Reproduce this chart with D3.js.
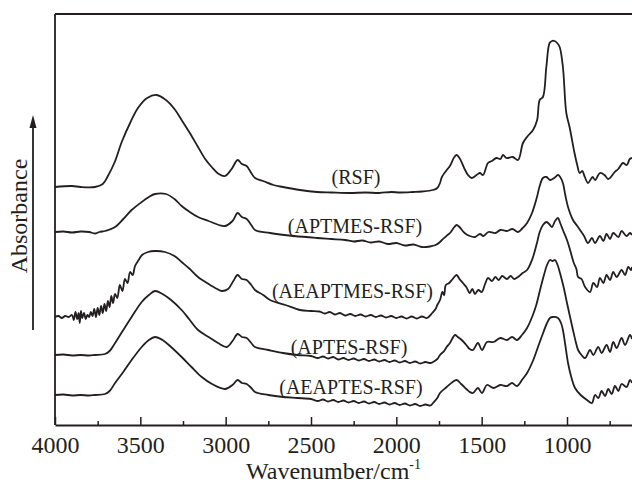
<!DOCTYPE html>
<html>
<head>
<meta charset="utf-8">
<script src="https://cdn.jsdelivr.net/npm/d3@7"></script>
<style>
    body { margin: 0; background: #fff; }
    svg text { font-family: "Liberation Serif", "Times New Roman", serif; fill: #231f20; }
</style>
</head>
<body>
<div id="chart"></div>
<script>
// stacked FTIR spectra, [wavenumber cm-1, absorbance (a.u., offset included)]
var rsf = [[4000,23.8],[3900,23.9],[3850,23.8],[3766,23.8],[3720,24.1],[3690,24.9],[3650,26.3],[3609,28.3],[3560,30.2],[3514,31.7],[3460,32.7],[3404,33.0],[3350,32.5],[3300,31.6],[3258,30.5],[3210,29.2],[3162,27.8],[3120,26.6],[3082,25.8],[3040,25.1],[3004,24.9],[2965,25.6],[2930,26.5],[2905,26.1],[2877,25.9],[2850,25.2],[2828,24.7],[2781,24.4],[2720,24.0],[2664,23.8],[2565,23.5],[2465,23.3],[2380,23.25],[2272,23.2],[2180,23.25],[2100,23.2],[2030,23.3],[1979,23.25],[1900,23.3],[1850,23.35],[1785,23.5],[1760,23.7],[1744,24.2],[1733,24.8],[1700,25.6],[1686,25.9],[1660,26.8],[1647,27.0],[1630,26.7],[1600,25.6],[1580,25.0],[1559,24.7],[1530,25.0],[1510,25.2],[1492,25.0],[1463,26.2],[1440,26.4],[1414,26.7],[1390,26.6],[1375,27.0],[1355,26.7],[1318,26.8],[1287,26.5],[1258,28.2],[1230,28.9],[1199,29.5],[1175,30.5],[1160,32.5],[1141,32.8],[1121,35.8],[1102,38.2],[1088,38.4],[1073,38.4],[1058,38.2],[1043,37.8],[1024,35.8],[1004,31.2],[985,29.8],[956,27.2],[940,26.0],[926,25.2],[910,25.4],[900,25.0],[877,24.2],[860,24.6],[850,24.8],[835,24.5],[807,25.2],[780,25.0],[760,24.6],[748,24.7],[720,25.3],[700,25.6],[672,26.2],[650,26.0],[632,26.6],[619,26.7]];

var aptmes = [[4000,19.3],[3950,19.35],[3900,19.25],[3850,19.35],[3800,19.3],[3766,19.15],[3740,19.3],[3707,19.4],[3680,19.55],[3648,19.8],[3600,20.6],[3551,21.5],[3492,22.3],[3450,22.8],[3414,23.1],[3350,23.1],[3300,22.6],[3258,21.9],[3210,21.3],[3162,20.8],[3100,20.4],[3040,20.0],[3004,19.9],[2960,20.4],[2930,21.2],[2905,20.8],[2877,20.6],[2850,20.0],[2828,19.5],[2740,19.2],[2600,18.9],[2465,18.7],[2380,18.6],[2300,18.5],[2250,18.35],[2200,18.45],[2150,18.25],[2100,18.35],[2050,18.1],[2000,18.2],[1950,17.95],[1900,18.05],[1850,17.8],[1803,17.85],[1770,18.0],[1744,18.3],[1733,18.5],[1700,19.0],[1686,19.2],[1660,19.8],[1647,20.0],[1630,19.8],[1600,19.2],[1570,18.9],[1539,18.8],[1510,19.1],[1490,18.9],[1460,19.3],[1420,19.2],[1390,19.5],[1352,19.4],[1320,19.6],[1287,19.3],[1260,19.7],[1234,20.2],[1205,21.2],[1176,22.8],[1160,23.9],[1141,24.7],[1120,24.8],[1100,24.5],[1075,24.7],[1053,25.0],[1040,24.8],[1024,24.2],[1010,23.0],[994,21.8],[965,20.5],[940,19.9],[924,19.5],[900,18.9],[877,18.2],[854,18.7],[836,18.2],[807,18.9],[787,18.4],[768,19.1],[748,18.6],[729,19.2],[699,18.8],[680,19.4],[651,18.9],[631,19.2],[619,19.0]];

var aeaptmes = [[4000,10.8],[3980,10.9],[3960,10.7],[3940,10.9],[3920,10.8],[3900,11.0],[3890,10.5],[3880,11.3],[3870,10.6],[3862,11.2],[3855,10.2],[3848,11.4],[3840,10.7],[3830,11.2],[3820,10.6],[3810,11.0],[3800,10.8],[3790,11.3],[3780,10.9],[3770,11.6],[3760,10.8],[3750,11.7],[3740,11.0],[3730,11.9],[3720,11.2],[3710,12.1],[3700,11.4],[3690,12.4],[3680,11.8],[3670,12.9],[3660,12.2],[3648,13.1],[3635,12.7],[3620,14.0],[3605,13.4],[3590,14.6],[3575,14.2],[3560,15.3],[3545,15.0],[3531,15.9],[3510,16.5],[3490,17.0],[3455,17.3],[3414,17.4],[3356,17.3],[3300,16.9],[3258,16.3],[3210,15.6],[3162,14.8],[3100,14.1],[3050,13.6],[3023,13.4],[2986,13.6],[2955,14.4],[2930,15.0],[2905,14.6],[2877,14.5],[2850,14.0],[2828,13.5],[2780,13.0],[2740,12.5],[2650,12.0],[2565,11.5],[2500,11.4],[2450,11.35],[2420,11.15],[2390,11.3],[2360,11.05],[2330,11.2],[2300,10.95],[2270,11.1],[2240,10.9],[2210,11.05],[2180,10.85],[2150,11.0],[2120,10.8],[2090,10.95],[2060,10.75],[2030,10.9],[2000,10.7],[1970,10.85],[1940,10.65],[1910,10.85],[1880,10.65],[1850,10.85],[1820,10.7],[1790,11.2],[1770,11.6],[1760,12.0],[1744,12.5],[1730,13.3],[1720,13.0],[1710,14.0],[1690,14.2],[1670,14.6],[1647,15.0],[1630,14.6],[1610,14.2],[1590,13.8],[1570,13.2],[1555,13.6],[1539,13.1],[1520,13.5],[1500,13.3],[1480,14.1],[1463,14.7],[1440,14.4],[1420,14.8],[1400,14.5],[1380,14.9],[1352,14.6],[1330,14.9],[1310,14.6],[1287,14.8],[1260,15.2],[1234,15.5],[1205,16.5],[1176,18.2],[1160,19.3],[1141,20.0],[1120,20.3],[1100,20.0],[1088,19.8],[1070,20.4],[1053,20.7],[1040,20.2],[1024,19.5],[1000,18.5],[982,17.5],[960,16.2],[945,15.6],[935,14.8],[915,14.6],[894,13.8],[865,13.3],[846,14.2],[824,13.8],[807,14.7],[787,14.2],[768,15.0],[748,14.5],[729,15.3],[709,14.8],[680,15.5],[660,15.0],[641,15.8],[625,15.5],[619,15.8]];

var aptes = [[4000,7.0],[3950,7.05],[3900,6.95],[3850,7.0],[3800,6.95],[3766,7.0],[3707,7.1],[3680,7.4],[3648,8.2],[3600,9.5],[3551,10.8],[3492,12.3],[3450,13.0],[3414,13.4],[3370,13.1],[3320,12.5],[3258,11.5],[3210,10.5],[3162,9.5],[3100,8.8],[3045,8.2],[2994,7.8],[2960,8.4],[2930,9.1],[2905,8.8],[2877,8.7],[2850,8.2],[2828,7.8],[2750,7.5],[2664,7.2],[2580,7.0],[2500,6.9],[2460,6.7],[2430,6.85],[2400,6.65],[2370,6.8],[2340,6.55],[2310,6.7],[2280,6.5],[2250,6.65],[2220,6.45],[2190,6.6],[2160,6.4],[2130,6.55],[2100,6.35],[2070,6.5],[2040,6.3],[2010,6.45],[1980,6.25],[1950,6.4],[1920,6.2],[1890,6.35],[1860,6.15],[1830,6.3],[1800,6.2],[1785,6.3],[1760,6.6],[1744,7.0],[1720,7.4],[1705,7.8],[1686,8.2],[1656,9.0],[1640,8.8],[1617,8.5],[1590,8.0],[1570,7.6],[1551,7.5],[1522,8.2],[1498,7.5],[1469,8.3],[1430,8.3],[1391,8.7],[1352,8.5],[1322,8.8],[1293,8.5],[1264,9.0],[1234,9.7],[1200,11.0],[1180,12.0],[1158,13.5],[1135,15.0],[1117,16.0],[1100,16.5],[1085,16.4],[1070,16.5],[1055,16.0],[1041,15.2],[1020,13.8],[1000,12.2],[982,10.8],[965,9.5],[950,8.4],[935,7.5],[915,7.0],[894,6.7],[865,7.5],[846,7.0],[817,7.8],[797,7.2],[768,8.0],[748,7.3],[729,8.3],[709,7.7],[680,8.7],[660,8.0],[631,9.0],[619,8.6]];

var aeaptes = [[4000,3.0],[3950,3.05],[3900,2.95],[3850,3.0],[3800,2.95],[3766,3.0],[3707,3.1],[3680,3.4],[3648,4.2],[3600,5.3],[3551,6.5],[3492,7.8],[3450,8.5],[3414,8.8],[3370,8.5],[3320,7.8],[3258,6.8],[3200,5.8],[3140,4.8],[3080,4.1],[3004,3.6],[2960,4.0],[2930,4.5],[2905,4.2],[2877,4.1],[2850,3.7],[2828,3.3],[2750,3.0],[2664,2.8],[2580,2.7],[2500,2.6],[2460,2.4],[2430,2.55],[2400,2.35],[2370,2.5],[2340,2.3],[2310,2.45],[2280,2.25],[2250,2.4],[2220,2.2],[2190,2.35],[2160,2.15],[2130,2.3],[2100,2.1],[2070,2.25],[2040,2.05],[2010,2.2],[1980,2.0],[1950,2.15],[1920,1.95],[1890,2.1],[1860,1.9],[1830,2.05],[1800,1.95],[1785,2.2],[1760,2.7],[1744,3.2],[1705,3.8],[1670,4.3],[1647,4.5],[1620,4.1],[1590,3.6],[1570,3.3],[1551,3.2],[1522,3.7],[1498,3.2],[1469,4.0],[1430,3.7],[1391,4.0],[1352,3.9],[1322,4.2],[1293,3.9],[1260,4.6],[1234,5.2],[1200,6.4],[1170,7.8],[1140,9.2],[1117,10.2],[1100,10.7],[1082,10.8],[1053,10.7],[1035,10.2],[1024,9.5],[1010,8.0],[994,6.2],[975,4.8],[953,3.7],[920,3.0],[883,2.5],[854,2.2],[836,3.0],[816,2.7],[797,3.4],[777,2.9],[758,3.6],[738,3.1],[719,3.9],[699,3.4],[680,4.1],[651,3.8],[631,4.5],[619,4.2]];

var seriesNames = ["(RSF)", "(APTMES-RSF)", "(AEAPTMES-RSF)", "(APTES-RSF)", "(AEAPTES-RSF)"];
// label anchor: [wavenumber, absorbance] of the text baseline centre
var labelPos = [[2236, 24.1], [2242, 19.2], [2257, 12.7], [2277, 7.1], [2266, 3.1]];
var majorTicks = [4000, 3500, 3000, 2500, 2000, 1500, 1000];
var minorTicks = [3750, 3250, 2750, 2250, 1750, 1250, 750];

var width = 632;
var height = 487;
var ink = "#231f20";
var serif = "'Liberation Serif', 'Times New Roman', serif";

var svg = d3.select("#chart")
    .append("svg")
    .attr("width", width)
    .attr("height", height);

var x = d3.scaleLinear().domain([4000, 400]).range([55, 669.4]);
var y = d3.scaleLinear().domain([0, 41.1]).range([425, 14]);

var spectra = [rsf, aptmes, aeaptmes, aptes, aeaptes];

var line = d3.line()
    .x(function (d) { return x(d[0]); })
    .y(function (d) { return y(d[1]); })
    .curve(d3.curveCatmullRom.alpha(0.5));

svg.selectAll("path.spec")
    .data(spectra)
    .enter()
    .append("path")
    .attr("class", "spec")
    .attr("d", line)
    .attr("fill", "none")
    .attr("stroke", ink)
    .attr("stroke-width", 1.8)
    .attr("stroke-linejoin", "round");

// frame: left and top
svg.append("line")
    .attr("x1", x(4000)).attr("x2", x(4000))
    .attr("y1", y.range()[1]).attr("y2", y.range()[0])
    .attr("stroke", ink).attr("stroke-width", 1.8);
svg.append("line")
    .attr("x1", x(4000)).attr("x2", width)
    .attr("y1", y.range()[1]).attr("y2", y.range()[1])
    .attr("stroke", ink).attr("stroke-width", 1.8);

// bottom axis, ticks point inward
var xAxis = d3.axisBottom(x)
    .tickValues(majorTicks)
    .tickSizeInner(-8)
    .tickSizeOuter(0)
    .tickPadding(11)
    .tickFormat(d3.format("d"));

var gx = svg.append("g")
    .attr("transform", "translate(0," + y(0) + ")")
    .attr("font-family", serif)
    .call(xAxis);
gx.select(".domain").attr("stroke", ink).attr("stroke-width", 1.8);
gx.selectAll(".tick line").attr("stroke", ink).attr("stroke-width", 1.5);
gx.selectAll(".tick text")
    .attr("fill", ink)
    .style("font-size", "24px")
    .style("font-family", serif);

var gm = svg.append("g")
    .attr("transform", "translate(0," + y(0) + ")")
    .call(d3.axisBottom(x).tickValues(minorTicks).tickSize(-4).tickFormat(""));
gm.select(".domain").remove();
gm.selectAll(".tick line").attr("stroke", ink).attr("stroke-width", 1.5);

// series labels
svg.selectAll("text.lbl")
    .data(seriesNames)
    .enter()
    .append("text")
    .attr("class", "lbl")
    .attr("x", function (d, i) { return x(labelPos[i][0]); })
    .attr("y", function (d, i) { return y(labelPos[i][1]); })
    .attr("text-anchor", "middle")
    .style("font-size", "20px")
    .style("font-family", serif)
    .text(function (d) { return d; });

// x title
var title = svg.append("text")
    .attr("x", 246)
    .attr("y", 479)
    .style("font-size", "24px")
    .style("font-family", serif);
title.append("tspan").text("Wavenumber/cm");
title.append("tspan")
    .attr("dy", -10)
    .style("font-size", "14px")
    .text("-1");

// y title with arrow
svg.append("text")
    .attr("transform", "translate(27,216) rotate(-90)")
    .attr("text-anchor", "middle")
    .style("font-size", "24px")
    .style("font-family", serif)
    .text("Absorbance");

svg.append("line")
    .attr("x1", 33).attr("x2", 33)
    .attr("y1", 330).attr("y2", 125)
    .attr("stroke", ink).attr("stroke-width", 1.8);
svg.append("path")
    .attr("d", "M33,115 L29.5,128 L36.5,128 Z")
    .attr("fill", ink);
</script>
</body>
</html>
